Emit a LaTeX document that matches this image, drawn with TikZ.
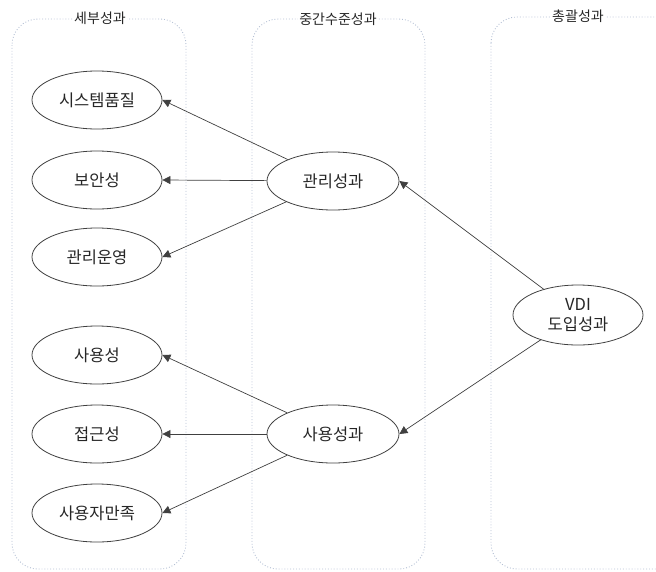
\documentclass[tikz,border=0pt]{standalone}
\usepackage{fontspec}
\setmainfont{Noto Sans CJK KR}
\usetikzlibrary{shapes.geometric,arrows.meta}
\definecolor{boxline}{HTML}{B4C0D4}
\definecolor{inkline}{HTML}{404040}
\definecolor{txt}{HTML}{262626}
\tikzset{
  oval/.style={ellipse, draw=inkline, line width=0.8pt, minimum width=130pt, minimum height=58pt, inner sep=0pt, font=\fontsize{16.5}{20}\selectfont, text=txt, align=center},
  group/.style={draw=boxline, dotted, line width=0.9pt, rounded corners=26pt},
  grouplabel/.style={fill=white, inner sep=1pt, font=\fontsize{14}{16}\selectfont, text=txt},
  link/.style={draw=inkline, line width=0.7pt, -{Triangle[length=8pt,width=8pt]}}
}
\begin{document}
\begin{tikzpicture}[x=1pt,y=-1pt]
\useasboundingbox (0,0) rectangle (656,571);
\begin{scope}
\clip (0,0) rectangle (656,571);
\draw[group] (12,19) rectangle (186,569);
\draw[group] (252,19) rectangle (425,569);
\draw[group] (491,17) rectangle (700,569);
\end{scope}
\node[grouplabel] (g1) at (100,18) {세부성과};
\node[grouplabel] (g2) at (338,19) {중간수준성과};
\node[grouplabel] (g3) at (578,16) {총괄성과};

\node[oval] (l1) at (97,100) {시스템품질};
\node[oval] (l2) at (97,180) {보안성};
\node[oval] (l3) at (97,257) {관리운영};
\node[oval] (l4) at (97,355) {사용성};
\node[oval] (l5) at (97,434) {접근성};
\node[oval] (l6) at (97,513) {사용자만족};

\node[oval, minimum width=132pt] (m1) at (333,181) {관리성과};
\node[oval, minimum width=132pt] (m2) at (333,434) {사용성과};

\node[oval, minimum width=130pt, minimum height=60pt] (v) at (578,315) {VDI\\도입성과};

\draw[link] (m1) -- (l1.east);
\draw[link] (m1) -- (l2.east);
\draw[link] (m1) -- (l3.east);
\draw[link] (m2) -- (l4.east);
\draw[link] (m2) -- (l5.east);
\draw[link] (m2) -- (l6.east);
\draw[link] (v) -- (m1.east);
\draw[link] (v) -- (m2.east);
\end{tikzpicture}
\end{document}
